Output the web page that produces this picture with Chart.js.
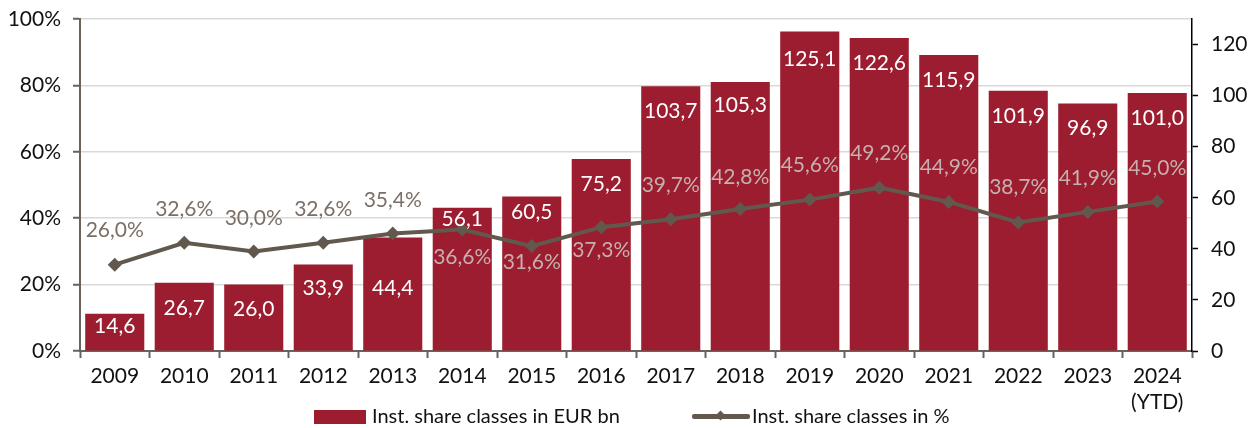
<!DOCTYPE html>
<html>
<head>
<meta charset="utf-8">
<script src="https://cdn.jsdelivr.net/npm/chart.js@4"></script>
<style>
  html, body { margin: 0; padding: 0; background: #fff; }
  #wrap { position: relative; width: 1258px; height: 428px; }
  #chart { display: block; }
  .leg { position: absolute; top: 403px; height: 24px; font-family: Lato, sans-serif; font-size: 20px; color: #111; white-space: nowrap; line-height: 24px; }
  .leg .sw { display: inline-block; vertical-align: middle; position: relative; }
</style>
</head>
<body>
<div id="wrap">
  <canvas id="chart" width="1258" height="428"></canvas>
  <div class="leg" style="left:314px;">
    <span class="sw" style="width:52px;height:14px;background:#9b1d2f;margin-right:6px;top:-1px;"></span>Inst. share classes in EUR bn
  </div>
  <div class="leg" style="left:692px;">
    <span class="sw" style="width:58px;height:5px;background:#62584e;border-radius:2px;margin-right:2px;top:-1px;">
      <span style="position:absolute;left:25px;top:-2px;width:7px;height:7px;background:#62584e;transform:rotate(45deg);"></span>
    </span>Inst. share classes in %
  </div>
</div>
<script>
// Daten
const years = ['2009', '2010', '2011', '2012', '2013', '2014', '2015', '2016',
  '2017', '2018', '2019', '2020', '2021', '2022', '2023', ['2024', '(YTD)']];
const eurBn = [14.6, 26.7, 26.0, 33.9, 44.4, 56.1, 60.5, 75.2,
  103.7, 105.3, 125.1, 122.6, 115.9, 101.9, 96.9, 101.0];
const sharePct = [26.0, 32.6, 30.0, 32.6, 35.4, 36.6, 31.6, 37.3,
  39.7, 42.8, 45.6, 49.2, 44.9, 38.7, 41.9, 45.0];
const pctTicks = [0, 20, 40, 60, 80, 100];
const bnTicks = [0, 20, 40, 60, 80, 100, 120];

// Label-Abstände (Pixel) wie im Original
const barLabelDrop = [13, 25, 25, 24, 51, 12, 16, 25, 25, 23, 28, 25, 25, 25, 25, 25];
const pctLabelShift = [-34, -34, -33, -34, -33, 28, 16, 23, -34, -32, -34, -34, -35, -35, -34, -33];

const FONT = 'Lato, sans-serif';
const barColor = '#9b1d2f';
const lineColor = '#62584e';
const axisColor = '#6b6259';

function fmt(v) {
  return v.toFixed(1).replace('.', ',');
}

// Werte an Balken und Punkten
const valueLabels = {
  id: 'valueLabels',
  afterDatasetsDraw(chart) {
    const ctx = chart.ctx;
    const bars = chart.getDatasetMeta(0).data;
    const pts = chart.getDatasetMeta(1).data;
    ctx.save();
    ctx.font = '21px ' + FONT;
    ctx.textAlign = 'center';
    ctx.textBaseline = 'middle';
    bars.forEach((b, i) => {
      ctx.fillStyle = '#ffffff';
      ctx.fillText(fmt(eurBn[i]), b.x, b.y + barLabelDrop[i]);
    });
    pts.forEach((p, i) => {
      const y = p.y + pctLabelShift[i];
      ctx.fillStyle = y > bars[i].y ? '#c6afae' : '#7b6f66';
      ctx.fillText(fmt(sharePct[i]) + '%', p.x, y);
    });
    ctx.restore();
  }
};

// feste Achsenbreite, ohne Zusatzabstand oben/unten
function fixWidth(w) {
  return s => {
    s.width = w;
    s.paddingTop = 0;
    s.paddingBottom = 0;
  };
}

const ctx = document.getElementById('chart').getContext('2d');
const chart = new Chart(ctx, {
  data: {
    labels: years,
    datasets: [{
      type: 'bar',
      label: 'Inst. share classes in EUR bn',
      data: eurBn,
      yAxisID: 'y1',
      backgroundColor: barColor,
      barPercentage: 0.85,
      categoryPercentage: 1,
      order: 2
    }, {
      type: 'line',
      label: 'Inst. share classes in %',
      data: sharePct,
      yAxisID: 'y',
      borderColor: lineColor,
      borderWidth: 4,
      pointStyle: 'rectRot',
      pointRadius: 7,
      pointBackgroundColor: lineColor,
      pointBorderWidth: 0,
      tension: 0,
      order: 1
    }]
  },
  options: {
    animation: false,
    responsive: false,
    devicePixelRatio: 1,
    layout: { padding: { top: 19, bottom: 2, left: 0, right: 0 } },
    plugins: { legend: { display: false }, tooltip: { enabled: false } },
    scales: {
      x: {
        offset: true,
        grid: { display: true, drawOnChartArea: false, offset: true, tickLength: 7, tickColor: axisColor, tickWidth: 2 },
        border: { color: axisColor, width: 2 },
        ticks: { color: '#111', font: { family: FONT, size: 21, lineHeight: 1.2 }, padding: 6, maxRotation: 0, autoSkip: false },
        afterFit: s => { s.height = 75; s.paddingLeft = 0; s.paddingRight = 0; }
      },
      y: {
        position: 'left',
        min: 0,
        max: 100,
        afterBuildTicks: s => { s.ticks = pctTicks.map(v => ({ value: v })); },
        ticks: { color: '#111', font: { family: FONT, size: 21 }, padding: 12, callback: v => v + '%' },
        grid: { color: '#d9d9d9', lineWidth: 1.5, tickColor: axisColor, tickLength: 7, tickWidth: 2 },
        border: { color: axisColor, width: 2 },
        afterFit: fixWidth(80)
      },
      y1: {
        position: 'right',
        min: 0,
        max: 130,
        afterBuildTicks: s => { s.ticks = bnTicks.map(v => ({ value: v })); },
        ticks: { color: '#111', font: { family: FONT, size: 21 }, padding: 13 },
        grid: { drawOnChartArea: false, tickColor: '#000', tickLength: 6, tickWidth: 1.5 },
        border: { color: '#000', width: 1.5 },
        afterFit: fixWidth(66)
      }
    }
  },
  plugins: [valueLabels]
});
</script>
</body>
</html>
